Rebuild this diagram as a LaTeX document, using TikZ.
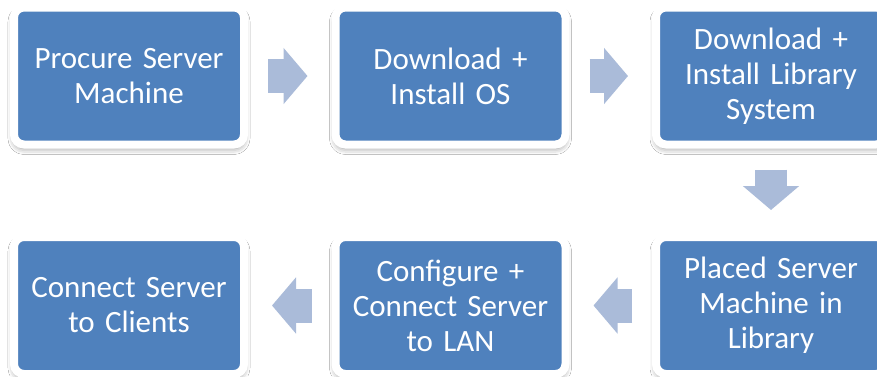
\documentclass[tikz,border=0pt]{standalone}
\usepackage{fontspec}
\setmainfont[WordSpace=0.85]{Carlito}
\usetikzlibrary{arrows.meta,shadows.blur}

\definecolor{boxblue}{RGB}{79,129,189}
\definecolor{arrowblue}{RGB}{170,187,217}

\begin{document}
\begin{tikzpicture}[x=1pt, y=-1pt,
  stepbox/.style = {rectangle, rounded corners=10pt, fill=boxblue, draw=white,
    line width=8pt, minimum width=230pt, minimum height=137pt, inner sep=0pt,
    text=white, align=center, text width=214pt,
    font=\fontsize{31pt}{35pt}\selectfont,
    blur shadow={shadow xshift=0pt, shadow yshift=-4pt, shadow blur radius=6pt, shadow opacity=45}},
  flow/.style = {draw=arrowblue, line width=34pt,
    -{Triangle[length=24pt, width=55pt]}, shorten <=20pt, shorten >=24pt}]
\useasboundingbox[fill=white] (0,0) rectangle (877,376);
% top row
\node[stepbox] (procure) at (129,76) {Procure Server\\Machine};
\node[stepbox] (os) at (450.5,76) {Download +\\Install OS};
\node[stepbox] (libsys) at (771,76) {Download +\\Install Library\\System};
% bottom row
\node[stepbox] (place) at (771,305.5) {Placed Server\\Machine in\\Library};
\node[stepbox] (lan) at (450.5,305.5) {Configure +\\Connect Server\\to LAN};
\node[stepbox] (clients) at (129,305.5) {Connect Server\\to Clients};
% arrows
\draw[flow] (procure.east) -- (os.west);
\draw[flow] (os.east) -- (libsys.west);
\draw[flow, line width=32pt, shorten <=21pt, shorten >=23pt] (libsys.south) -- (place.north);
\draw[flow] (place.west) -- (lan.east);
\draw[flow] (lan.west) -- (clients.east);
\end{tikzpicture}
\end{document}
